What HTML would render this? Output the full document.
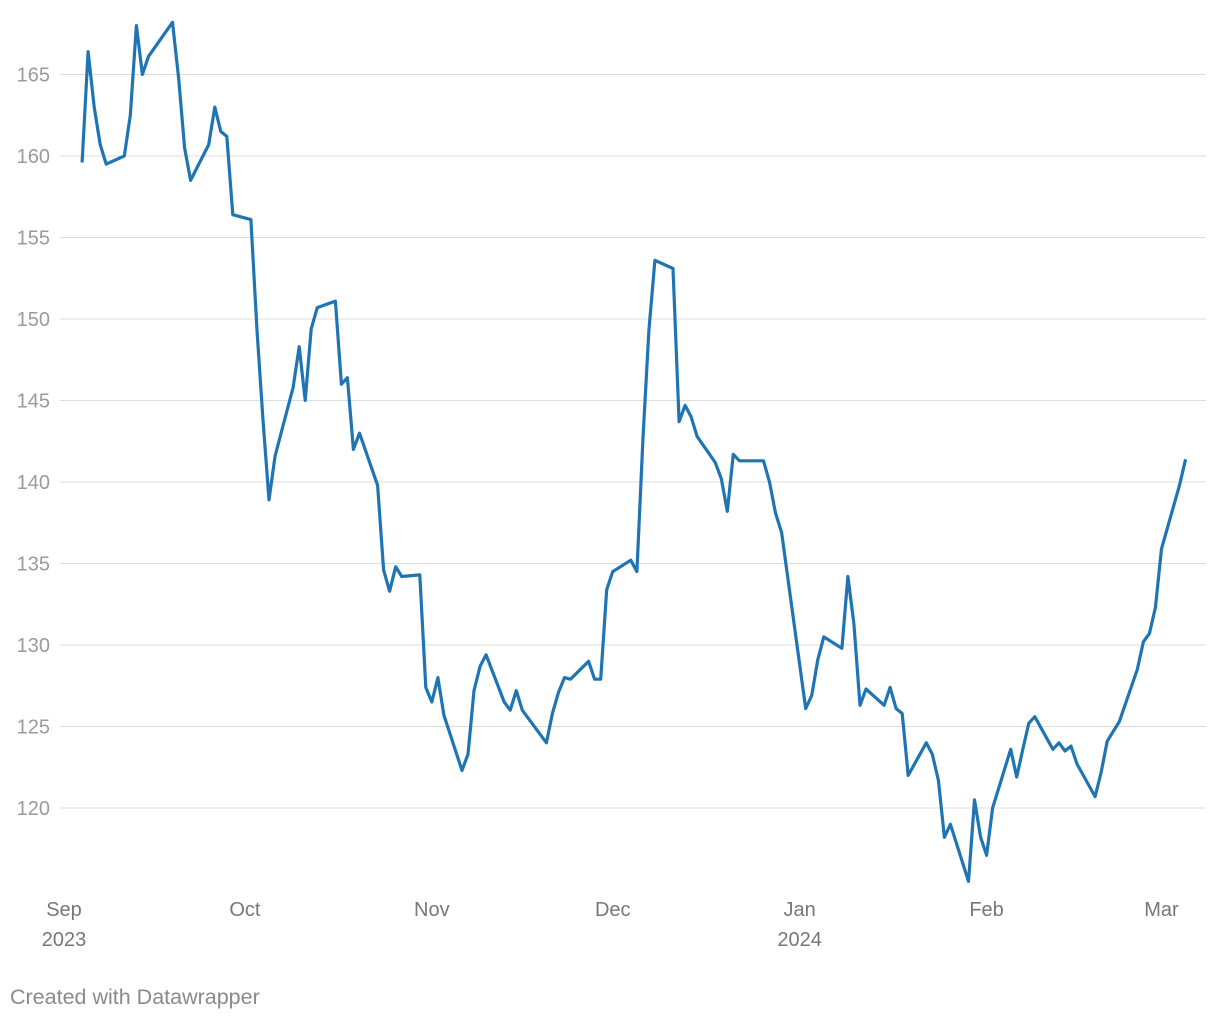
<!DOCTYPE html>
<html><head><meta charset="utf-8">
<style>
html,body{margin:0;padding:0;background:#fff;}
body{width:1220px;height:1020px;overflow:hidden;font-family:"Liberation Sans",Arial,sans-serif;}
svg text{font-family:"Liberation Sans",Arial,sans-serif;}
</style></head>
<body>
<svg id="chart" width="1220" height="1020" xmlns="http://www.w3.org/2000/svg">
<g id="grid"></g>
<g id="yticks"></g>
<g id="xticks"></g>
<path id="line" fill="none" stroke="#1f75b4" stroke-width="3.2" stroke-linejoin="round"></path>
<text x="10" y="1004" fill="#8a8a8a" font-size="21.5">Created with Datawrapper</text>
</svg>
<script>
// days since 2023-09-01
const days = [3,4,5,6,7,10,11,12,13,14,18,19,20,21,24,25,26,27,28,31,32,33,34,35,38,39,40,41,42,45,46,47,48,49,52,53,54,55,56,59,60,61,62,63,66,67,68,69,70,73,74,75,76,80,81,82,83,84,87,88,89,90,91,94,95,96,97,98,101,102,103,104,105,108,109,110,111,112,116,117,118,119,123,124,125,126,129,130,131,132,133,136,137,138,139,140,143,144,145,146,147,150,151,152,153,154,157,158,159,160,161,164,165,166,167,168,171,172,173,174,175,178,179,180,181,182,185,186];
const values = [159.6,166.4,163.0,160.7,159.5,160.0,162.5,168.0,165.0,166.1,168.2,164.8,160.5,158.5,160.7,163.0,161.5,161.2,156.4,156.1,149.3,143.8,138.9,141.6,145.8,148.3,145.0,149.4,150.7,151.1,146.0,146.4,142.0,143.0,139.8,134.6,133.3,134.8,134.2,134.3,127.4,126.5,128.0,125.7,122.3,123.3,127.2,128.7,129.4,126.5,126.0,127.2,126.0,124.0,125.8,127.1,128.0,127.9,129.0,127.9,127.9,133.4,134.5,135.2,134.5,142.6,149.3,153.6,153.1,143.7,144.7,144.0,142.8,141.2,140.2,138.2,141.7,141.3,141.3,140.0,138.1,136.9,126.1,126.9,129.1,130.5,129.8,134.2,131.3,126.3,127.3,126.3,127.4,126.1,125.8,122.0,124.0,123.3,121.7,118.2,119.0,115.5,120.5,118.2,117.1,120.0,123.6,121.9,123.6,125.2,125.6,123.6,124.0,123.5,123.8,122.7,120.7,122.2,124.1,124.7,125.3,128.5,130.2,130.7,132.3,135.9,139.8,141.4];
const yTicks = [120,125,130,135,140,145,150,155,160,165];
const xTickDays = [0,30,61,91,122,153,182];
const xTickLabels = ["Sep","Oct","Nov","Dec","Jan","Feb","Mar"];
const xTickYears = ["2023","","","","2024","",""];

function x(d){return 64 + d*6.03;}
function y(v){return 808 - (v-120)*16.3;}
const NS="http://www.w3.org/2000/svg";
const grid=document.getElementById('grid'), yt=document.getElementById('yticks'), xt=document.getElementById('xticks');
yTicks.forEach(v=>{
  const l=document.createElementNS(NS,'line');
  
  
  l.setAttribute('x1',60);l.setAttribute('x2',1206);
  l.setAttribute('y1',y(v));l.setAttribute('y2',y(v));
  l.setAttribute('stroke','#dcdcdc');l.setAttribute('stroke-width','1');
  grid.appendChild(l);
  const t=document.createElementNS(NS,'text');
  
  
  t.setAttribute('x',50);t.setAttribute('y',y(v)+7);
  t.setAttribute('text-anchor','end');t.setAttribute('fill','#9a9a9a');t.setAttribute('font-size','20');
  t.textContent=v;yt.appendChild(t);
});
xTickDays.forEach((d,i)=>{
  const t=document.createElementNS(NS,'text');
  
  
  t.setAttribute('x',x(d));t.setAttribute('y',916);
  t.setAttribute('text-anchor','middle');t.setAttribute('fill','#777');t.setAttribute('font-size','20');
  t.textContent=xTickLabels[i];xt.appendChild(t);
  if(xTickYears[i]){
    const t2=document.createElementNS(NS,'text');
    
    
    t2.setAttribute('x',x(d));t2.setAttribute('y',946);
    t2.setAttribute('text-anchor','middle');t2.setAttribute('fill','#777');t2.setAttribute('font-size','20');
    t2.textContent=xTickYears[i];xt.appendChild(t2);
  }
});
document.getElementById('line').setAttribute('d',days.map((d,i)=>(i?'L':'M')+x(d).toFixed(1)+','+y(values[i]).toFixed(1)).join(''));
</script>
</body></html>
